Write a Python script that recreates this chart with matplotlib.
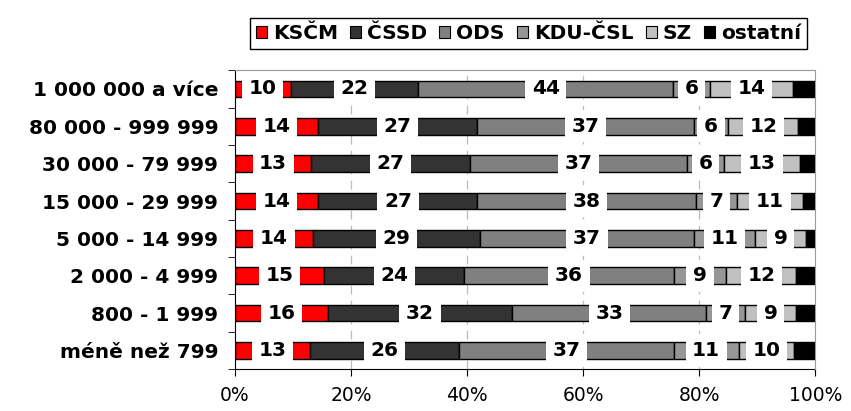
import numpy as np
import matplotlib.pyplot as plt
from matplotlib.patches import Patch

# Data (shares in %)
categories = ["1 000 000 a více", "80 000 - 999 999", "30 000 - 79 999", "15 000 - 29 999",
              "5 000 - 14 999", "2 000 - 4 999", "800 - 1 999", "méně než 799"]
parties = ["KSČM", "ČSSD", "ODS", "KDU-ČSL", "SZ", "ostatní"]
colors = ["#FF0000", "#333333", "#808080", "#969696", "#C0C0C0", "#000000"]

kscm = [9.6, 14.3, 13.2, 14.4, 13.5, 15.4, 16.0, 12.9]
cssd = [22.0, 27.4, 27.3, 27.4, 28.7, 24.1, 31.8, 25.8]
ods = [43.9, 37.4, 37.4, 37.6, 36.9, 36.1, 33.4, 36.9]
kdu = [6.4, 5.9, 6.4, 7.1, 10.6, 9.1, 6.7, 11.2]
sz = [14.3, 12.1, 13.0, 11.4, 8.7, 12.0, 8.8, 9.6]
ostatni = [3.8, 2.9, 2.7, 2.1, 1.6, 3.3, 3.3, 3.6]

# labels shown only for the first five parties
labelled = [True, True, True, True, True, False]

series = [kscm, cssd, ods, kdu, sz, ostatni]

fig = plt.figure(figsize=(8.51, 4.11), dpi=100)
ax = fig.add_axes([0.276, 0.102, 0.682, 0.727])

y = np.arange(len(categories))
left = np.zeros(len(categories))
for vals, col, show in zip(series, colors, labelled):
    vals = np.array(vals) / 100
    ax.barh(y, vals, left=left, height=0.44, color=col, edgecolor="black", linewidth=1, zorder=2)
    if show:
        for yi, (l, v) in enumerate(zip(left, vals)):
            ax.text(l + v / 2, yi, f"{round(v * 100):.0f}", ha="center", va="center",
                    fontsize=14.5, fontweight="bold", zorder=5,
                    bbox=dict(boxstyle="square,pad=0.33", fc="white", ec="none"))
    left += vals

ax.set_xlim(0, 1)
ax.set_ylim(len(categories) - 0.5, -0.5)
ax.set_xticks(np.arange(0, 1.01, 0.2))
ax.set_xticklabels([f"{int(t * 100)}%" for t in np.arange(0, 1.01, 0.2)], fontsize=13.5)
ax.set_yticks(y)
ax.set_yticklabels(categories, fontsize=14.5, fontweight="bold")
ax.set_yticks(np.arange(-0.5, len(categories), 1), minor=True)
ax.tick_params(axis="y", which="major", length=0, pad=12)
ax.tick_params(axis="y", which="minor", length=5, direction="out")
ax.tick_params(axis="x", length=5, direction="out", pad=7)

for xv in [0.2, 0.4, 0.6, 0.8]:
    ax.axvline(xv, color="#BBBBBB", linestyle=(0, (7, 5)), linewidth=0.9, zorder=0.5)

ax.spines["top"].set_color("#999999")
ax.spines["right"].set_color("#999999")
ax.spines["top"].set_zorder(6)
ax.spines["left"].set_zorder(6)
ax.spines["right"].set_zorder(6)

handles = [Patch(facecolor=c, edgecolor="black", linewidth=0.8) for c in colors]
leg = fig.legend(handles, parties, loc="upper center", bbox_to_anchor=(0.621, 0.98), ncol=6,
                 prop={"weight": "bold", "size": 14.5}, handlelength=0.55, handleheight=0.55,
                 handletextpad=0.3, columnspacing=0.6, fancybox=False, borderpad=0.3,
                 edgecolor="black", framealpha=1)
leg.get_frame().set_linewidth(1)

plt.savefig("out.png", dpi=100)
